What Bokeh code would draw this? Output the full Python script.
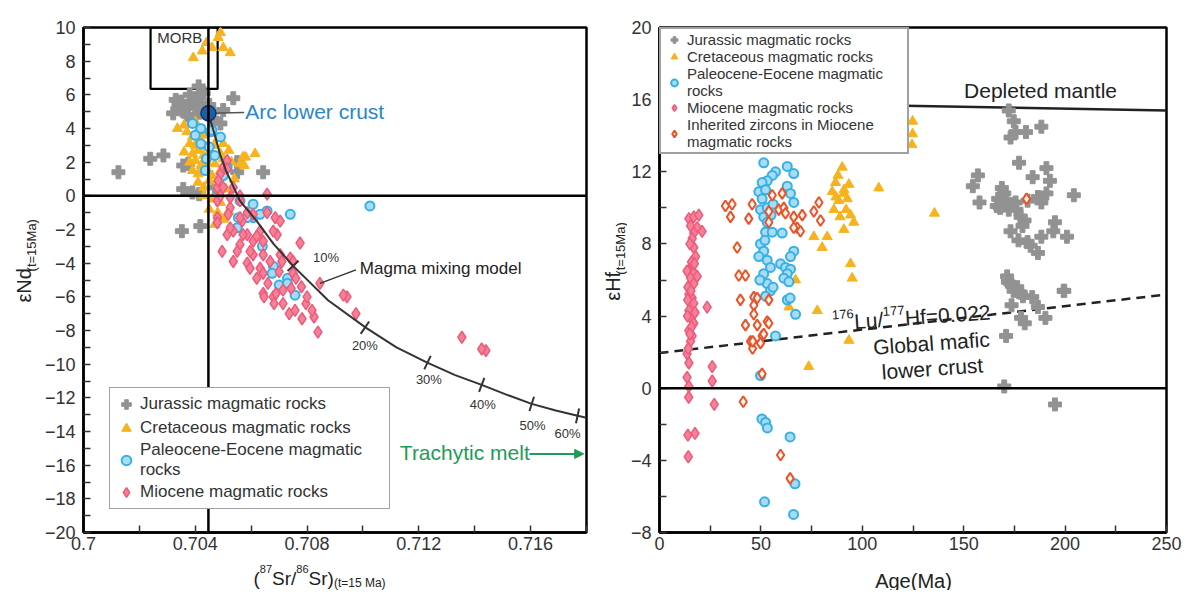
import numpy as np
from bokeh.plotting import figure
from bokeh.models import (FixedTicker, Legend, LegendItem, Label, Span, Arrow,
                          NormalHead, Range1d)
from bokeh.layouts import row, column
from bokeh.embed import file_html
from bokeh.resources import INLINE

FONT = "Liberation Sans"

# ------------------------------------------------------------------ left panel data
sr_ticks = [0.700, 0.704, 0.708, 0.712, 0.716]
sr_tick_labels = ["0.7", "0.704", "0.708", "0.712", "0.716"]
sr_minor = [0.702, 0.706, 0.710, 0.714, 0.718]
nd_ticks = list(range(-20, 11, 2))
nd_minor = list(range(-19, 10, 2))

jur_sr = [0.70125, 0.70239, 0.70286, 0.70352, 0.70418, 0.70357, 0.70414, 0.70412, 0.70536, 0.70643,
          0.70550, 0.70375, 0.70357, 0.70321, 0.70464, 0.70490, 0.70350, 0.70370, 0.70390, 0.70400,
          0.70360, 0.70410, 0.70380, 0.70420, 0.70340, 0.70430, 0.70400, 0.70370, 0.70460, 0.70330,
          0.70450, 0.70500, 0.70390, 0.70470, 0.70550]
jur_nd = [1.4, 2.2, 2.4, -2.1, -1.8, 0.4, 0.1, 6.5, 5.8, 1.4,
          1.4, 1.9, 1.8, 4.9, 5.0, 4.3, 5.6, 5.3, 5.5, 5.8,
          5.0, 5.2, 6.0, 5.5, 5.4, 6.1, 4.7, 4.8, 4.6, 5.7,
          5.4, 5.1, 0.2, 0.5, 2.0]

cre_sr = [0.70393, 0.70425, 0.70482, 0.70500, 0.70525, 0.70460, 0.70490, 0.70440,
          0.70336, 0.70614, 0.70571, 0.70575, 0.70560, 0.70580,
          0.7037, 0.7039, 0.7041, 0.7043, 0.7046, 0.7048, 0.7038, 0.7040, 0.7042, 0.7044,
          0.7047, 0.7050, 0.7036, 0.7039, 0.7041, 0.7043, 0.7045, 0.7049, 0.7052, 0.7038,
          0.7040, 0.7042, 0.7044, 0.7047, 0.7050, 0.7039, 0.7041, 0.7043, 0.7046, 0.7049,
          0.7041, 0.7043, 0.7045, 0.7048, 0.7051, 0.7043, 0.7046, 0.7049, 0.7045, 0.7048,
          0.7050, 0.7047, 0.7052, 0.7054, 0.7053, 0.7036, 0.7040]
cre_nd = [8.2, 8.6, 9.4, 8.8, 8.5, 8.8, 9.7, 9.1,
          4.0, 2.5, 2.3, 1.8, 1.9, 2.3,
          3.8, 3.5, 3.9, 3.6, 3.7, 3.4, 3.1, 3.0, 3.2, 2.9,
          3.0, 3.1, 2.6, 2.5, 2.7, 2.4, 2.6, 2.5, 2.7, 2.0,
          2.1, 1.8, 2.0, 1.9, 2.2, 1.5, 1.3, 1.6, 1.2, 1.5,
          0.8, 0.5, 0.9, 0.7, 0.4, 0.0, -0.2, -0.4, -0.8, -1.0,
          -1.4, -1.7, -0.9, 1.0, 2.0, 4.2, 4.4]

pal_sr = [0.7039, 0.7042, 0.70454, 0.7049, 0.7042, 0.7045, 0.7044, 0.7047, 0.70436, 0.70514,
          0.7056, 0.70607, 0.70657, 0.7074, 0.71025, 0.7068, 0.70675, 0.7073, 0.7070, 0.70607,
          0.70632, 0.70554, 0.7055, 0.70585, 0.7073, 0.70757, 0.7040, 0.7046, 0.7050, 0.7064]
pal_nd = [4.3, 4.0, 3.8, 3.5, 3.1, 2.9, 2.2, 2.4, 1.5, 1.7,
          -0.3, -0.5, -0.9, -1.1, -0.6, -4.2, -4.6, -4.9, -5.3, -1.3,
          -1.1, -1.3, -1.9, -1.3, -5.2, -5.9, 3.6, 3.9, 1.2, -3.0]

mio_sr = [0.70657, 0.70686, 0.70775, 0.7074, 0.70846, 0.70943, 0.7075, 0.70496, 0.70536, 0.7056,
          0.70586, 0.70607, 0.70632, 0.7062, 0.70586, 0.70668, 0.70704, 0.70693, 0.70632, 0.70479,
          0.70525, 0.7056, 0.70479, 0.7049, 0.70514, 0.705, 0.70536, 0.70479, 0.70607, 0.70643,
          0.70568, 0.70607, 0.70536, 0.70514, 0.7055, 0.70679, 0.70643, 0.70714, 0.70646, 0.70682,
          0.70714, 0.70736, 0.70782, 0.70825, 0.70839, 0.70743, 0.70796, 0.70818, 0.7093, 0.70975,
          0.71354, 0.7144, 0.71425, 0.70689, 0.70757, 0.7049, 0.70525, 0.7056, 0.70657, 0.70518,
          0.7056, 0.70586, 0.70704, 0.70479, 0.70525, 0.70571, 0.7062, 0.70679, 0.70596, 0.70643,
          0.7071, 0.70596, 0.70643, 0.7075, 0.70482, 0.705, 0.70514, 0.7076, 0.7078, 0.7066,
          0.7070, 0.7080]
mio_nd = [0.1, -1.3, -2.8, -3.7, -5.2, -6.0, -4.6, -3.3, -2.1, -2.9,
          -2.3, -3.5, -4.3, -4.9, -4.0, -3.9, -3.5, -2.3, -2.1, -1.3,
          -0.7, -0.3, 0.5, 1.3, 2.1, 1.7, 0.5, -0.3, -1.1, -2.7,
          -1.5, -2.7, -3.9, -2.3, -3.3, -6.0, -5.8, -5.6, -6.0, -6.4,
          -6.4, -7.0, -7.3, -7.2, -8.1, -5.5, -6.4, -6.8, -5.9, -7.0,
          -8.4, -9.2, -9.1, -5.8, -6.8, 0.0, -0.1, 0.0, -1.0, -1.1,
          -1.3, -1.0, -1.5, -1.6, -1.9, -2.3, -2.4, -2.1, -3.3, -3.5,
          -3.9, -4.3, -4.6, -3.9, 0.9, 0.5, 1.6, -4.9, -5.4, -5.2,
          -4.5, -6.0]

morb_sr = [0.7024, 0.7048]
morb_nd = [6.35, 10.0]
alc_sr = [0.70447]
alc_nd = [4.9]
ref_sr = 0.70447

mix_sr = [0.70447, 0.7047, 0.7049, 0.7051, 0.7056, 0.7062, 0.7068, 0.7075, 0.70875, 0.7101,
          0.7112, 0.7123, 0.7133, 0.71425, 0.7152, 0.71604, 0.7169, 0.71768, 0.7180]
mix_nd = [4.9, 3.6, 2.4, 1.5, -0.3, -1.5, -2.85, -4.16, -6.2, -7.83,
          -9.0, -9.91, -10.65, -11.23, -11.85, -12.36, -12.75, -13.07, -13.18]
tick_sr = [0.7075, 0.71007, 0.71231, 0.71425, 0.71604, 0.71768]
tick_nd = [-4.16, -7.83, -9.91, -11.23, -12.36, -13.07]
tick_txt = ["10%", "20%", "30%", "40%", "50%", "60%"]
tick_txt_sr = [0.70868, 0.71007, 0.71236, 0.71429, 0.71607, 0.71732]
tick_txt_nd = [-3.68, -8.91, -10.93, -12.42, -13.67, -14.14]

# ------------------------------------------------------------------ right panel data
age_ticks = [0, 50, 100, 150, 200, 250]
age_minor = [25, 75, 125, 175, 225]
hf_ticks = [-8, -4, 0, 4, 8, 12, 16, 20]
hf_minor = [-6, -2, 2, 6, 10, 14, 18]

jur_age = [172.2, 174.7, 173.1, 175.6, 180.7, 188.3, 177.3, 190.8, 184.0, 192.5,
           157.0, 154.5, 157.8, 168.8, 166.3, 169.7, 172.2, 175.6, 178.1, 181.5,
           186.6, 190.8, 188.3, 204.3, 173.1, 181.5, 188.3, 186.6, 195.0, 194.2,
           200.9, 171.4, 173.1, 176.4, 178.1, 199.3, 171.8, 174.6, 179.2, 183.8,
           186.6, 173.6, 178.3, 180.1, 190.3, 199.6, 170.9, 170.0, 195.0, 167.0,
           170.0, 168.0, 171.0, 173.0, 176.0, 180.0, 179.0, 177.0, 183.0]
jur_hf = [15.4, 14.8, 13.9, 14.2, 14.2, 14.5, 12.5, 12.2, 11.7, 11.5,
          11.8, 11.2, 10.3, 11.1, 10.1, 10.3, 9.9, 10.3, 9.5, 10.4,
          10.6, 10.8, 10.3, 10.7, 8.7, 8.1, 8.4, 7.5, 9.2, 8.7,
          8.4, 6.2, 5.8, 5.6, 5.3, 5.4, 5.9, 5.4, 5.1, 5.05,
          4.5, 4.6, 3.9, 3.6, 3.9, 5.4, 2.9, 0.1, -0.9, 10.5,
          10.8, 10.0, 10.4, 10.2, 9.9, 9.3, 9.0, 8.2, 7.9]

cre_age = [90.1, 86.8, 93.4, 108.1, 85.2, 90.9, 88.4, 92.6, 86.0, 94.2,
           95.8, 90.9, 76.1, 82.7, 80.2, 94.2, 95.0, 67.1, 77.8, 63.8,
           93.4, 73.6, 124.8, 124.8, 124.5, 135.6, 88.0, 91.0, 89.0, 92.0, 87.0]
cre_hf = [12.25, 11.4, 11.3, 11.1, 10.9, 10.8, 10.4, 10.5, 9.9, 9.6,
          9.2, 8.8, 8.4, 8.4, 7.8, 6.9, 6.1, 6.0, 4.3, 4.5,
          2.65, 1.2, 14.8, 14.1, 13.5, 9.7, 11.8, 11.0, 9.5, 9.9, 10.6]

pal_age = [51.4, 63.0, 66.2, 57.2, 55.6, 53.1, 50.6, 49.0, 50.6, 49.8,
           51.4, 53.1, 63.0, 64.6, 66.2, 52.3, 55.6, 60.5, 49.8, 51.4,
           49.0, 53.1, 54.7, 51.4, 59.7, 62.1, 64.6, 63.0, 61.3, 63.8,
           53.1, 54.7, 52.3, 66.2, 64.6, 63.0, 67.1, 57.2, 49.8, 50.5,
           52.3, 53.2, 64.4, 66.8, 51.8, 66.1, 64.4, 53.1, 52.3, 56.0,
           55.0, 52.0, 56.0, 49.5]
pal_hf = [12.5, 12.3, 11.9, 12.0, 11.8, 11.5, 11.4, 10.9, 10.5, 9.9,
          9.5, 9.2, 11.2, 10.8, 10.3, 8.65, 8.65, 8.6, 8.0, 7.6,
          7.3, 7.1, 6.7, 6.35, 6.9, 6.7, 6.6, 6.35, 6.1, 5.9,
          5.8, 5.4, 5.1, 7.6, 7.3, 4.9, 4.1, 2.9, 0.7, -1.7,
          -1.9, -2.2, -2.7, -5.3, -6.3, -7.0, 5.0, 10.0, 11.0, 10.2,
          9.6, 8.2, 5.6, 6.0]

mio_age = [14.5, 16.9, 19.4, 15.3, 18.6, 21.0, 16.9, 16.1, 16.9, 17.8,
           16.1, 13.6, 16.9, 18.6, 15.3, 16.9, 14.5, 16.1, 16.9, 14.5,
           15.3, 16.9, 14.5, 16.1, 15.3, 13.6, 14.5, 26.0, 26.0, 13.6,
           14.5, 23.5, 14.4, 14.0, 17.5, 14.2, 27.0, 13.8, 15.8, 14.0,
           15.8, 14.2, 15.0, 17.5, 15.5, 13.9, 17.2, 15.0]
mio_hf = [9.4, 9.5, 9.6, 9.0, 8.9, 8.7, 8.6, 8.3, 7.8, 7.3,
          6.8, 6.5, 6.4, 6.2, 6.1, 5.8, 5.2, 5.0, 4.7, 4.3,
          3.9, 3.6, 3.2, 2.9, 2.6, 1.9, 1.4, 1.2, 0.4, 0.6,
          0.1, 4.5, -0.5, -2.6, -2.5, -3.8, -0.9, 4.0, 3.4, 5.6,
          7.0, 2.2, 8.0, 4.2, 5.4, 4.9, 6.9, 3.0]

inh_age = [32.5, 35.8, 35.0, 45.7, 44.0, 38.3, 39.1, 42.4, 39.9, 46.5,
           46.5, 48.2, 53.9, 46.5, 42.4, 48.2, 53.1, 53.9, 44.9, 50.6,
           49.8, 50.6, 55.6, 53.9, 53.9, 60.5, 58.8, 61.3, 62.1, 66.2,
           67.9, 70.4, 66.2, 69.5, 76.1, 78.6, 79.4, 41.3, 59.7, 64.4,
           45.9, 46.0, 51.4, 181.0]
inh_hf = [10.1, 10.2, 9.5, 10.2, 9.4, 7.8, 6.25, 6.25, 4.9, 5.05,
          4.6, 5.0, 4.9, 4.1, 3.5, 3.5, 3.7, 3.6, 2.6, 2.9,
          2.5, 0.8, 10.7, 9.8, 9.2, 10.8, 9.9, 10.0, 9.7, 9.5,
          8.9, 9.6, 8.9, 8.7, 9.8, 10.3, 9.3, -0.75, -3.7, -5.0,
          2.2, 2.6, 3.0, 10.5]

dm_age = [0, 250]
dm_hf = [15.9, 15.4]
lu_age = [0, 250]
lu_hf = [1.95, 5.2]

# ------------------------------------------------------------------ styling
GRAY = "#929292"
ORANGE = "#f6b31d"
BLUE_L, BLUE_F = "#36b0e5", "#a6dcf4"
PINK_L, PINK_F = "#ee5a7a", "#f48198"
RED_L, RED_F = "#e8542a", "#fff4ef"
GREEN = "#1e9b55"
ARCBLUE = "#2a86c9"
TXT = "#222222"

FW1, FH = 503, 505
FW2 = 507
X1 = (0.700, 0.718)
Y1 = (-20, 10)
X2 = (0, 250)
Y2 = (-8, 20)
TOP, BOT = 27, 28
STRIP_H = 30
FIG_H = TOP + FH + BOT

ARIAL = {'(': 333, ')': 333, 'S': 667, 'r': 333, '/': 278, 't': 278, '=': 584, ' ': 278,
         'M': 833, 'a': 556, 'N': 722, 'd': 556, 'H': 722, 'f': 278, 'L': 556, 'u': 556,
         '.': 278, 'ε': 447}


def tw(s, size):
    return sum(ARIAL.get(c, 556) for c in s) * size / 1000.0


def rich(p, pieces, sx, sy, angle=0.0, color=TXT, units="screen"):
    ca, sa = np.cos(angle), np.sin(angle)
    pos = 0.0
    for text, size, dy in pieces:
        x = sx + pos * ca - dy * sa
        y = sy + pos * sa + dy * ca
        p.add_layout(Label(x=x, y=y, x_units=units, y_units=units, text=text,
                           angle=angle, text_font=FONT, text_font_size=f"{size}px",
                           text_color=color, text_align="left", text_baseline="alphabetic"))
        pos += tw(text, size)


def base_fig(xr, yr, fw, bl, br):
    p = figure(frame_width=fw, frame_height=FH, min_border_left=bl, min_border_right=br,
               min_border_top=TOP, min_border_bottom=BOT, title=None,
               x_range=Range1d(*xr), y_range=Range1d(*yr),
               output_backend="svg", toolbar_location=None)
    p.xgrid.visible = False
    p.ygrid.visible = False
    p.outline_line_color = "black"
    p.outline_line_width = 2.5
    p.outline_line_alpha = 1.0
    p.background_fill_color = "white"
    p.border_fill_color = "white"
    for ax in (p.xaxis[0], p.yaxis[0]):
        ax.axis_line_width = 2.5
        ax.axis_line_color = "black"
        ax.major_tick_in = 7
        ax.major_tick_out = 0
        ax.minor_tick_in = 7
        ax.minor_tick_out = 0
        ax.major_tick_line_color = "#333333"
        ax.minor_tick_line_color = "#333333"
        ax.major_tick_line_width = 1.5
        ax.minor_tick_line_width = 1.5
        ax.major_label_text_font = FONT
        ax.major_label_text_font_size = "18px"
        ax.major_label_text_color = "#333333"
        ax.major_label_standoff = 8
        ax.axis_label_standoff = 0
    p.xaxis.major_label_standoff = 4
    return p


def strip(w, h):
    s = figure(width=w, height=h, min_border=0, min_border_left=0, min_border_right=0,
               min_border_top=0, min_border_bottom=0, title=None,
               x_range=Range1d(0, w), y_range=Range1d(0, h),
               output_backend="svg", toolbar_location=None,
               x_axis_location=None, y_axis_location=None)
    s.outline_line_color = None
    s.xgrid.visible = False
    s.ygrid.visible = False
    s.background_fill_color = "white"
    s.border_fill_color = "white"
    return s


# ------------------------------------------------------------------ left figure
P1L, P1R = 43, 13
S1W = 40
p1 = base_fig(X1, Y1, FW1, P1L, P1R)
p1.xaxis.ticker = FixedTicker(ticks=sr_ticks, minor_ticks=sr_minor)
p1.xaxis.major_label_overrides = {v: s for v, s in zip(sr_ticks, sr_tick_labels)}
p1.yaxis.ticker = FixedTicker(ticks=nd_ticks, minor_ticks=nd_minor)

p1.add_layout(Span(location=0, dimension="width", line_color="black", line_width=2.5))
p1.add_layout(Span(location=ref_sr, dimension="height", line_color="black", line_width=2.5))
p1.quad(left=[morb_sr[0]], right=[morb_sr[1]], bottom=[morb_nd[0]], top=[morb_nd[1]],
        fill_color=None, line_color="black", line_width=2.2)

r_jur = p1.scatter(jur_sr, jur_nd, marker="plus", size=13, fill_color=GRAY, line_color=GRAY)
r_cre = p1.scatter(cre_sr, cre_nd, marker="triangle", size=10, fill_color=ORANGE, line_color=ORANGE)
r_pal = p1.scatter(pal_sr, pal_nd, marker="circle", size=9, fill_color=BLUE_F, line_color=BLUE_L,
                   line_width=2)
r_mio = p1.scatter(mio_sr, mio_nd, marker="diamond", size=12, fill_color=PINK_F, line_color=PINK_L,
                   line_width=1.5)

# mixing curve + tick marks
p1.line(mix_sr, mix_nd, line_color="#333333", line_width=2)
kx = FW1 / (X1[1] - X1[0])
ky = FH / (Y1[1] - Y1[0])
grad = np.gradient(np.array(mix_nd), np.array(mix_sr))
slopes = np.interp(tick_sr, mix_sr, grad)
perp = np.arctan(slopes * ky / kx) + np.pi / 2
p1.scatter(tick_sr, tick_nd, marker="dash", size=15, angle=perp, line_color="#333333",
           line_width=2)
for tx, ty, tt in zip(tick_txt_sr, tick_txt_nd, tick_txt):
    p1.add_layout(Label(x=tx, y=ty, text=tt, text_font=FONT, text_font_size="13px",
                        text_color="#333333", text_align="center", text_baseline="middle"))

# arc lower crust
p1.segment(x0=[alc_sr[0]], y0=[alc_nd[0]], x1=[0.70575], y1=[4.95], line_color="#555555",
           line_width=1.5)
p1.scatter(alc_sr, alc_nd, marker="circle", size=15, fill_color="#1c5ea8", line_color="#0f3560",
           line_width=1.5)
p1.add_layout(Label(x=0.70579, y=4.99, text="Arc lower crust", text_font=FONT,
                    text_font_size="21px", text_color=ARCBLUE, text_align="left",
                    text_baseline="middle"))
p1.add_layout(Label(x=0.70264, y=9.39, text="MORB", text_font=FONT, text_font_size="15px",
                    text_color="#333333", text_align="left", text_baseline="middle"))
p1.segment(x0=[0.70846], y0=[-5.2], x1=[0.70975], y1=[-4.4], line_color="#333333",
           line_width=1.5)
p1.add_layout(Label(x=0.70989, y=-4.34, text="Magma mixing model", text_font=FONT,
                    text_font_size="17px", text_color=TXT, text_align="left",
                    text_baseline="middle"))
p1.add_layout(Label(x=0.71132, y=-15.27, text="Trachytic melt", text_font=FONT,
                    text_font_size="21px", text_color=GREEN, text_align="left",
                    text_baseline="middle"))
p1.add_layout(Arrow(end=NormalHead(size=9, fill_color=GREEN, line_color=GREEN),
                    x_start=0.71596, y_start=-15.33, x_end=0.71790, y_end=-15.33,
                    line_color=GREEN, line_width=2))

leg1 = Legend(items=[LegendItem(label="Jurassic magmatic rocks", renderers=[r_jur]),
                     LegendItem(label="Cretaceous magmatic rocks", renderers=[r_cre]),
                     LegendItem(label="Paleocene-Eocene magmatic\nrocks", renderers=[r_pal]),
                     LegendItem(label="Miocene magmatic rocks", renderers=[r_mio])],
              location=(26, 23), label_text_font=FONT, label_text_font_size="17px",
              label_text_color="#333333", glyph_width=24, glyph_height=24, spacing=-5,
              label_standoff=2, padding=4, label_width=245, border_line_color="#444444",
              border_line_width=1.5, background_fill_alpha=1.0)
p1.add_layout(leg1)

# label strips for the left panel
s1 = strip(S1W, FIG_H)
rich(s1, [("εNd", 20, 0), ("(t=15Ma)", 13, -8)], sx=23, sy=FIG_H - 305,
     angle=np.pi / 2, units="data")
sx1 = strip(S1W + P1L + FW1 + P1R, STRIP_H)
rich(sx1, [("(", 19, 0), ("87", 11, 10), ("Sr/", 19, 0), ("86", 11, 10), ("Sr)", 19, 0),
           ("(t=15 Ma)", 12, -4)], sx=253, sy=12, units="data")

# ------------------------------------------------------------------ right figure
P2L, P2R = 32, 20
S2W = 28
p2 = base_fig(X2, Y2, FW2, P2L, P2R)
p2.xaxis.ticker = FixedTicker(ticks=age_ticks, minor_ticks=age_minor)
p2.yaxis.ticker = FixedTicker(ticks=hf_ticks, minor_ticks=hf_minor)

p2.add_layout(Span(location=0, dimension="width", line_color="black", line_width=2.5))
p2.line(dm_age, dm_hf, line_color=TXT, line_width=2.5)
p2.line(lu_age, lu_hf, line_color=TXT, line_width=2.5, line_dash="9 6")

q_jur = p2.scatter(jur_age, jur_hf, marker="plus", size=13, fill_color=GRAY, line_color=GRAY)
q_cre = p2.scatter(cre_age, cre_hf, marker="triangle", size=10, fill_color=ORANGE, line_color=ORANGE)
q_pal = p2.scatter(pal_age, pal_hf, marker="circle", size=9, fill_color=BLUE_F, line_color=BLUE_L,
                   line_width=2)
q_mio = p2.scatter(mio_age, mio_hf, marker="diamond", size=12, fill_color=PINK_F, line_color=PINK_L,
                   line_width=1.5)
q_inh = p2.scatter(inh_age, inh_hf, marker="diamond", size=11, fill_color=RED_F, line_color=RED_L,
                   line_width=2)

p2.add_layout(Label(x=187.9, y=16.5, text="Depleted mantle", text_font=FONT,
                    text_font_size="21px", text_color=TXT, text_align="center",
                    text_baseline="middle"))
p2.add_layout(Label(x=134.1, y=2.5, text="Global mafic", angle=0.07, text_font=FONT,
                    text_font_size="21px", text_color=TXT, text_align="center",
                    text_baseline="middle"))
p2.add_layout(Label(x=134.6, y=1.1, text="lower crust", angle=0.07, text_font=FONT,
                    text_font_size="21px", text_color=TXT, text_align="center",
                    text_baseline="middle"))
rich(p2, [("176", 13, 8), ("Lu/", 21, 0), ("177", 13, 8), ("Hf=0.022", 21, 0)],
     sx=173, sy=209.5, angle=0.07)

leg2 = Legend(items=[LegendItem(label="Jurassic magmatic rocks", renderers=[q_jur]),
                     LegendItem(label="Cretaceous magmatic rocks", renderers=[q_cre]),
                     LegendItem(label="Paleocene-Eocene magmatic\nrocks", renderers=[q_pal]),
                     LegendItem(label="Miocene magmatic rocks", renderers=[q_mio]),
                     LegendItem(label="Inherited zircons in Miocene\nmagmatic rocks",
                                renderers=[q_inh])],
              location="top_left", margin=0, label_text_font=FONT,
              label_text_font_size="15px", label_text_color="#333333",
              glyph_width=22, glyph_height=17, label_height=17, spacing=0,
              label_standoff=2, padding=2, label_width=218,
              border_line_color="#444444", border_line_width=2, background_fill_alpha=1.0)
p2.add_layout(leg2)

s2 = strip(S2W, FIG_H)
rich(s2, [("εHf", 20, 0), ("(t=15Ma)", 13, -8)], sx=13, sy=FIG_H - 303,
     angle=np.pi / 2, units="data")
sx2 = strip(S2W + P2L + FW2 + P2R, STRIP_H)
sx2.add_layout(Label(x=913 - 599, y=10, text="Age(Ma)", text_font=FONT,
                     text_font_size="20px", text_color=TXT,
                     text_align="center", text_baseline="alphabetic"))

layout = row(column(row(s1, p1), sx1), column(row(s2, p2), sx2))
open("out.html", "w").write(file_html(layout, INLINE))
